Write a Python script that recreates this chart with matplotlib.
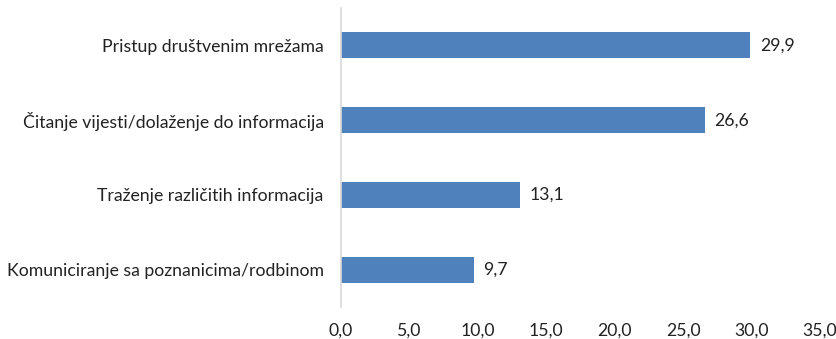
import matplotlib
matplotlib.use("Agg")
import matplotlib.pyplot as plt

categories = ["Komuniciranje sa poznanicima/rodbinom",
              "Traženje različitih informacija",
              "Čitanje vijesti/dolaženje do informacija",
              "Pristup društvenim mrežama"]
values = [9.7, 13.1, 26.6, 29.9]
x_ticks = [0, 5, 10, 15, 20, 25, 30, 35]

plt.rcParams['font.family'] = ['Lato', 'DejaVu Sans']
fs = 12.7

fig = plt.figure(figsize=(8.37, 3.39), dpi=100)
ax = fig.add_axes([341 / 837, 1 - 307 / 339, (820 - 341) / 837, 299 / 339])

bars = ax.barh(range(len(categories)), values, height=0.35, color="#4F81BD")
for bar, v in zip(bars, values):
    ax.text(v + 0.7, bar.get_y() + bar.get_height() / 2, f"{v:.1f}".replace(".", ","),
            va="center", ha="left", fontsize=fs, color="#222222")

ax.set_xlim(0, 35)
ax.set_ylim(-0.5, len(categories) - 0.5)
ax.set_yticks(range(len(categories)))
ax.set_yticklabels(categories, fontsize=fs, color="#222222")
ax.set_xticks(x_ticks)
ax.set_xticklabels([f"{t:.1f}".replace(".", ",") for t in x_ticks], fontsize=fs, color="#222222")
ax.tick_params(axis="both", length=0)
ax.tick_params(axis="x", pad=11)
ax.tick_params(axis="y", pad=12.5)

for side in ["top", "right", "bottom"]:
    ax.spines[side].set_visible(False)
ax.spines["left"].set_color("#D9D9D9")
ax.spines["left"].set_linewidth(1.2)

fig.savefig("out.png", dpi=100)
